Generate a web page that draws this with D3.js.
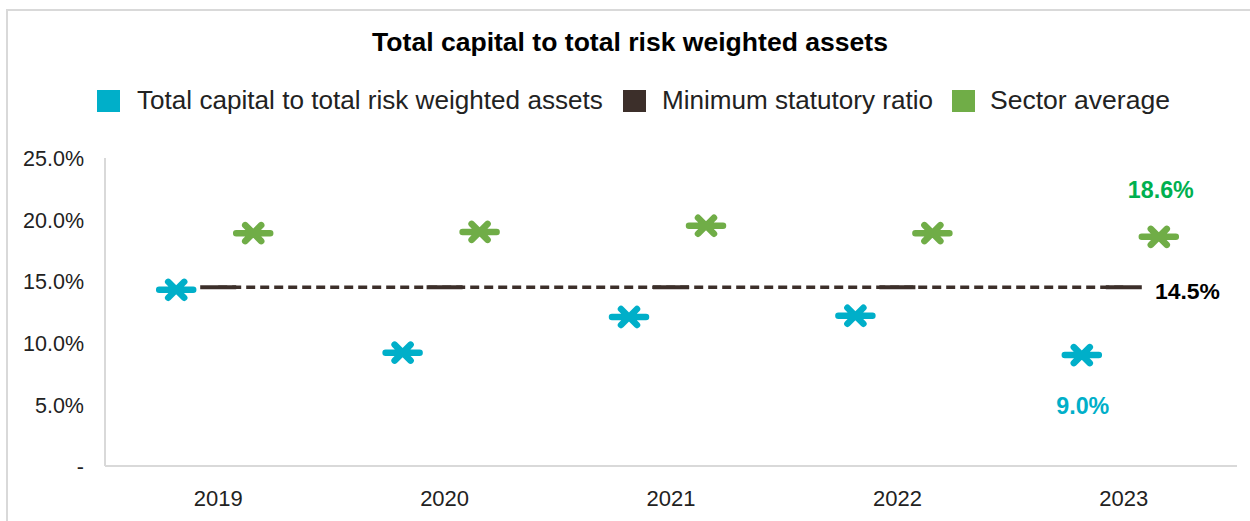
<!DOCTYPE html>
<html><head><meta charset="utf-8">
<script src="https://cdn.jsdelivr.net/npm/d3@7"></script>
<style>body{margin:0;background:#fff}svg{display:block}text{font-family:"Liberation Sans",Arial,sans-serif}</style>
</head><body><svg id="c" width="1250" height="521"></svg>
<script>
const years = ["2019","2020","2021","2022","2023"];
const totalCapital = [14.3, 9.2, 12.1, 12.2, 9.0];
const minimumRatio = [14.5, 14.5, 14.5, 14.5, 14.5];
const sectorAverage = [18.9, 19.0, 19.5, 18.9, 18.6];
const yTicks = [0, 5, 10, 15, 20, 25];
const seriesNames = ["Total capital to total risk weighted assets","Minimum statutory ratio","Sector average"];
const title = "Total capital to total risk weighted assets";

const colBlue = "#00AFC9", colDark = "#3C2F2A", colGreen = "#70AD47", colGreenLbl = "#00B050";
const svg = d3.select("#c");

function fit(sel, w){ // scale font-size so the text spans width w
  sel.each(function(){ const n=this; const cur=parseFloat(n.getAttribute("font-size")); const len=n.getComputedTextLength(); if(len>0) n.setAttribute("font-size", (cur*w/len).toFixed(2)); });
  return sel;
}

// outer frame
svg.append("rect").attr("x",7).attr("y",10).attr("width",1260).attr("height",530).attr("fill","none").attr("stroke","#d9d9d9").attr("stroke-width",2);

const x = d3.scaleBand().domain(years).range([105,1237]);
const y = d3.scaleLinear().domain([0,25]).range([466,158]);

// title
fit(svg.append("text").attr("x",630).attr("y",51).attr("text-anchor","middle").attr("font-weight","bold").attr("font-size",20).attr("fill","#000").text(title),516);

// legend
const leg = [{sx:97,tx:137,w:466,c:colBlue},{sx:623,tx:662,w:271,c:colDark},{sx:952,tx:990,w:180,c:colGreen}];
leg.forEach((l,i)=>{
  svg.append("rect").attr("x",l.sx).attr("y",90).attr("width",23).attr("height",22).attr("fill",l.c);
  fit(svg.append("text").attr("x",l.tx).attr("y",109).attr("font-size",20).attr("fill","#222").text(seriesNames[i]),l.w);
});

// axes lines
svg.append("line").attr("x1",105).attr("x2",105).attr("y1",158).attr("y2",466).attr("stroke","#d9d9d9").attr("stroke-width",2);
svg.append("line").attr("x1",105).attr("x2",1237).attr("y1",466).attr("y2",466).attr("stroke","#d9d9d9").attr("stroke-width",2);

// y ticks
const yAxis = d3.axisLeft(y).tickValues(yTicks).tickSize(0).tickPadding(0).tickFormat(d=> d===0 ? "-" : d.toFixed(1)+"%");
const gy = svg.append("g").attr("transform","translate(84,0)").call(yAxis);
gy.select(".domain").remove();
gy.selectAll("text").attr("font-size",20).attr("fill","#222").attr("font-family",null).attr("dy","0.36em");
const t25 = gy.selectAll("text").filter(d=>d===25);
fit(t25, 61);
const fsY = t25.attr("font-size");
gy.selectAll("text").attr("font-size", fsY);

// x ticks
const xAxis = d3.axisBottom(x).tickSize(0).tickPadding(0);
const gx = svg.append("g").attr("transform","translate(0,498)").call(xAxis);
gx.select(".domain").remove();
gx.selectAll("text").attr("font-size",22).attr("fill","#222").attr("font-family",null).attr("dy","0.36em");

const cx = d => x(d)+x.bandwidth()/2;

// minimum line (dashed) with dash markers
const line = d3.line().x((d,i)=>cx(years[i])).y(d=>y(d));
svg.append("path").datum(minimumRatio).attr("d",line).attr("fill","none").attr("stroke",colDark).attr("stroke-width",3.5).attr("stroke-dasharray","9,5");
svg.append("g").selectAll("line").data(minimumRatio).join("line")
  .attr("x1",(d,i)=>cx(years[i])-18).attr("x2",(d,i)=>cx(years[i])+18)
  .attr("y1",d=>y(d)).attr("y2",d=>y(d)).attr("stroke",colDark).attr("stroke-width",4);

// star markers
function star(g, px, py, color){
  const p = `M${px-17},${py}L${px+17},${py}M${px-8},${py-8}L${px+8},${py+8}M${px-8},${py+8}L${px+8},${py-8}`;
  g.append("path").attr("d",p).attr("stroke",color).attr("stroke-width",6.5).attr("stroke-linecap","round").attr("fill","none");
}
const gb = svg.append("g"), gg = svg.append("g");
totalCapital.forEach((v,i)=>star(gb, cx(years[i])-42, y(v), colBlue));
sectorAverage.forEach((v,i)=>star(gg, cx(years[i])+35, y(v), colGreen));

// data labels for last year
const last = years.length-1;
const lbl = (t, w) => fit(t, w);
lbl(svg.append("text").attr("x",cx(years[last])+37).attr("y",y(sectorAverage[last])-39).attr("text-anchor","middle").attr("font-weight","bold").attr("font-size",20).attr("fill",colGreenLbl).text(sectorAverage[last].toFixed(1)+"%"),66);
lbl(svg.append("text").attr("x",1155).attr("y",y(minimumRatio[last])+12).attr("font-weight","bold").attr("font-size",20).attr("fill","#000").text(minimumRatio[last].toFixed(1)+"%"),65);
lbl(svg.append("text").attr("x",cx(years[last])-41).attr("y",y(totalCapital[last])+59).attr("text-anchor","middle").attr("font-weight","bold").attr("font-size",20).attr("fill",colBlue).text(totalCapital[last].toFixed(1)+"%"),53);
</script></body></html>
